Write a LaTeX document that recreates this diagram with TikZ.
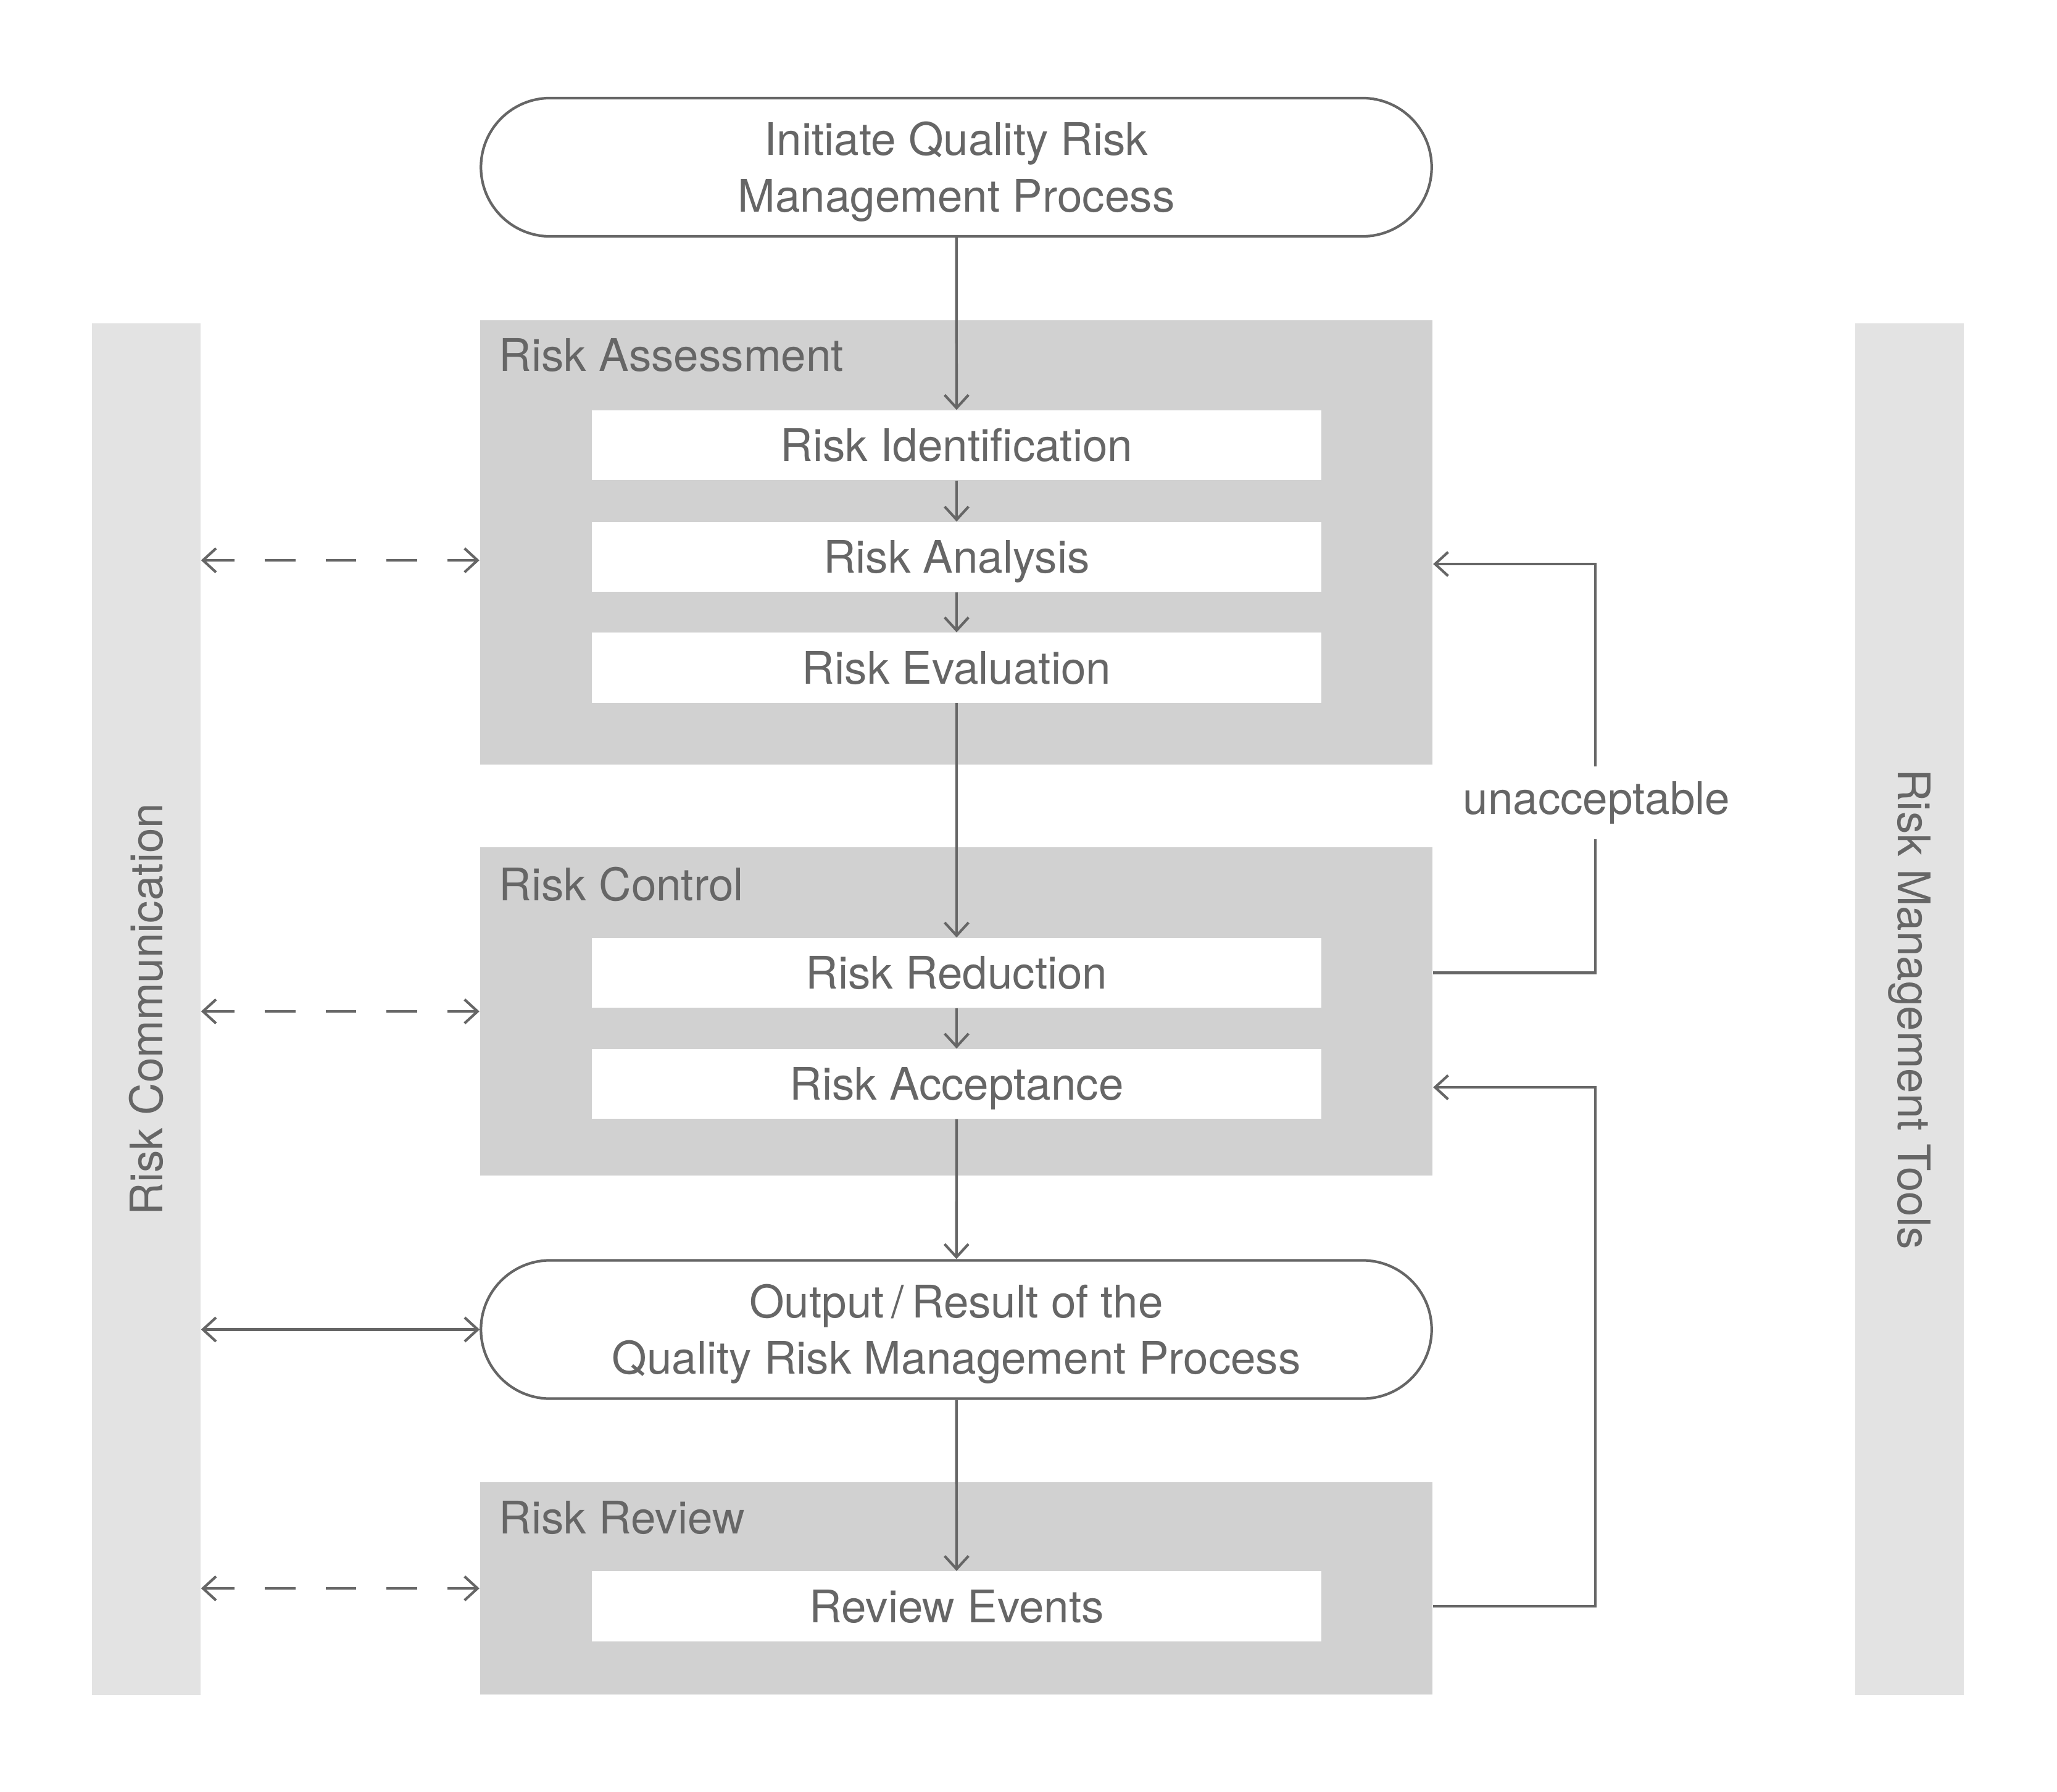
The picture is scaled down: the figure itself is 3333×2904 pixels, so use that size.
\documentclass[tikz,border=0pt]{standalone}
\usepackage{fontspec}
\setmainfont{TeX Gyre Heros}
\usepackage{tikz}
\usetikzlibrary{positioning,shapes.misc,arrows.meta}

\definecolor{txtgray}{HTML}{666666}
\definecolor{boxgray}{HTML}{D1D1D1}
\definecolor{bargray}{HTML}{E3E3E3}

\tikzset{
    every node/.style={text=txtgray, font=\fontsize{20.7}{26}\selectfont},
    flow/.style={draw=txtgray, line width=1.2pt, -{Straight Barb[length=6pt,width=11pt]}},
    both/.style={draw=txtgray, line width=1.2pt, {Straight Barb[length=6pt,width=11pt]}-{Straight Barb[length=6pt,width=11pt]}},
    terminal/.style={rounded rectangle, draw=txtgray, line width=1.2pt, fill=white, minimum width=15.63cm, minimum height=2.24cm, align=center, text height=45.5pt},
    stage/.style={rectangle, fill=boxgray, minimum width=15.43cm, inner sep=0pt},
    stepbox/.style={rectangle, fill=white, minimum width=11.82cm, minimum height=1.13cm, inner sep=0pt, text height=14.9pt, text depth=0pt},
    sidebar/.style={rectangle, fill=bargray, minimum width=1.76cm, minimum height=22.21cm, inner sep=0pt},
    title/.style={anchor=west, inner sep=0pt}
}

\begin{document}
\begin{tikzpicture}[x=0.01cm, y=-0.01cm]
\useasboundingbox (0,0) rectangle (3333,2904);

% side bars
\node[sidebar] (comm) at (237,1635.5) {};
\node[sidebar] (tools) at (3094,1635.5) {};
\node[rotate=90] at (comm.center) {Risk Communication};
\node[rotate=-90] at (tools.center) {Risk Management Tools};

% stages
\node[stage, minimum height=7.20cm] (assess) at (1549.5,879) {};
\node[stage, minimum height=5.32cm] (control) at (1549.5,1639) {};
\node[stage, minimum height=3.44cm] (review) at (1549.5,2574) {};
\node[title] at (808,576) {Risk Assessment};
\node[title] at (808,1433) {Risk Control};
\node[title] at (808,2459) {Risk Review};

% steps
\node[terminal] (start) at (1549.5,271) {Initiate Quality Risk\\Management Process};
\node[stepbox] (ident) at (1550,721.5) {Risk Identification};
\node[stepbox] (analysis) at (1550,902.5) {Risk Analysis};
\node[stepbox] (evaluation) at (1550,1082) {Risk Evaluation};
\node[stepbox] (reduction) at (1550,1576.5) {Risk Reduction};
\node[stepbox] (acceptance) at (1550,1756.5) {Risk Acceptance};
\node[terminal] (output) at (1549.5,2154.5) {Output\,/\,Result of the\\Quality Risk Management Process};
\node[stepbox] (events) at (1550,2603) {Review Events};

% main flow
\draw[flow] (start) -- (ident);
\draw[flow] (ident) -- (analysis);
\draw[flow] (analysis) -- (evaluation);
\draw[flow] (evaluation) -- (reduction);
\draw[flow] (reduction) -- (acceptance);
\draw[flow] (acceptance) -- (output);
\draw[flow] (output) -- (events);

% feedback loops
\coordinate (loop) at (2585,0);
\coordinate (back1) at ([yshift=-0.115cm]assess.east |- analysis);
\coordinate (back2) at ([yshift=-0.055cm]control.east |- acceptance);
\draw[flow] (control.east |- reduction) -| (loop |- back1) -- (back1);
\draw[flow] (review.east |- events) -| (loop |- back2) -- (back2);
\node[fill=white, inner xsep=2pt, inner ysep=7pt] (unacc) at (2587,1301) {unacceptable};

% communication
\draw[both, dash pattern=on 14pt off 14pt] ([yshift=-0.055cm]comm.east |- analysis) -- ([yshift=-0.055cm]assess.west |- analysis);
\foreach \stagename in {control, review} {
    \draw[both, dash pattern=on 14pt off 14pt] (comm.east |- \stagename) -- (\stagename.west);
}
\draw[both] (comm.east |- output) -- (output.west);
\end{tikzpicture}
\end{document}
